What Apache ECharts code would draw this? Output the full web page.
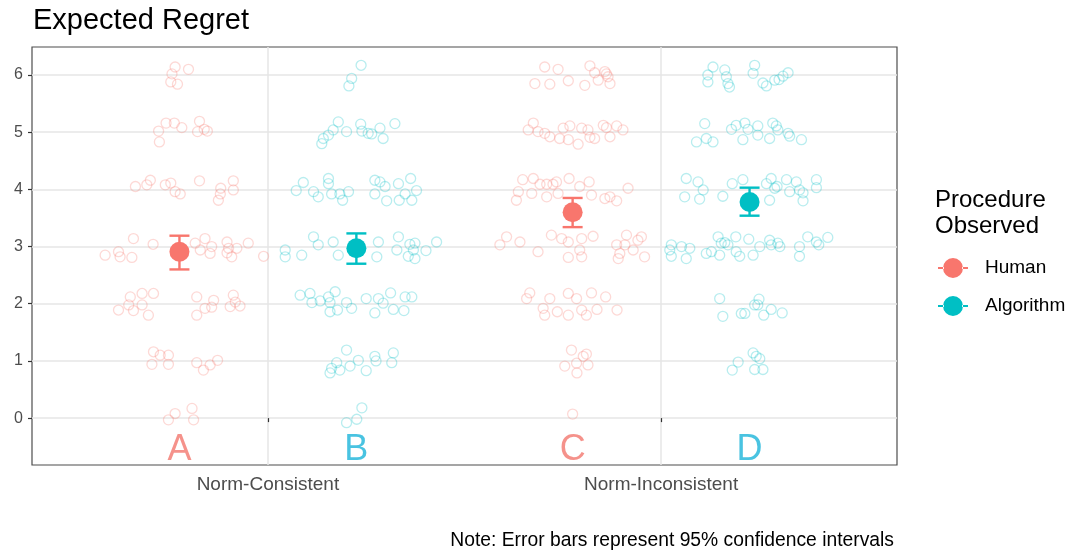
<!DOCTYPE html>
<html>
<head>
<meta charset="utf-8">
<script src="https://cdn.jsdelivr.net/npm/echarts@6/dist/echarts.min.js"></script>
<style>
  html, body { margin: 0; padding: 0; background: #ffffff; }
  #chart { width: 1071px; height: 554px; }
</style>
</head>
<body>
<div id="chart"></div>
<script>
// Conditions on the x axis and the two observed procedures
const categories = ['Norm-Consistent', 'Norm-Inconsistent'];
const procedures = ['Human', 'Algorithm'];
const yTicks = [0, 1, 2, 3, 4, 5, 6];

// Group means with 95% confidence limits, one value per condition
const humanMean = [2.91, 3.60];
const humanLow  = [2.60, 3.34];
const humanHigh = [3.19, 3.85];
const algoMean  = [2.97, 3.78];
const algoLow   = [2.70, 3.54];
const algoHigh  = [3.23, 4.03];

// Panel letters placed under each group
const panelLetters = ['A', 'B', 'C', 'D'];
const letterY = -0.56;

// Individual (jittered) responses: [x position, expected regret]
const humanConsistent = [
  [0.764,6.14],[0.798,6.10],[0.756,6.02],[0.753,5.88],[0.770,5.84],
  [0.741,5.16],[0.762,5.16],[0.826,5.19],[0.781,5.08],[0.722,5.02],[0.821,5.01],[0.846,5.02],[0.838,5.05],[0.724,4.83],
  [0.663,4.05],[0.692,4.08],[0.701,4.16],[0.739,4.08],[0.753,4.11],[0.764,3.96],[0.777,3.92],[0.826,4.15],[0.880,4.02],[0.879,3.92],[0.874,3.81],[0.912,4.15],[0.912,3.99],
  [0.586,2.85],[0.620,2.91],[0.624,2.82],[0.654,2.81],[0.658,3.14],[0.708,3.04],[0.815,3.06],[0.840,3.14],[0.828,2.94],[0.857,3.00],[0.853,2.88],[0.896,3.08],[0.900,2.97],[0.896,2.89],[0.908,2.82],[0.921,2.97],[0.950,3.06],[0.989,2.83],
  [0.650,2.12],[0.680,2.18],[0.709,2.18],[0.620,1.89],[0.646,1.98],[0.658,1.88],[0.680,1.98],[0.696,1.80],[0.819,2.12],[0.819,1.80],[0.840,1.92],[0.862,2.06],[0.857,1.94],[0.904,1.95],[0.912,2.15],[0.917,2.03],[0.929,1.96],
  [0.709,1.16],[0.726,1.10],[0.747,1.10],[0.705,0.94],[0.747,0.94],[0.819,0.97],[0.836,0.84],[0.853,0.93],[0.872,1.01],
  [0.764,0.08],[0.807,0.17],[0.747,-0.03],[0.811,-0.03]
];
const algoConsistent = [
  [1.237,6.17],[1.213,5.94],[1.206,5.81],
  [1.179,5.18],[1.236,5.14],[1.323,5.15],[1.166,5.04],[1.154,4.95],[1.141,4.89],[1.137,4.80],[1.200,5.01],[1.239,5.02],[1.255,4.98],[1.285,5.07],[1.293,4.89],[1.264,4.97],
  [1.090,4.12],[1.072,3.98],[1.116,3.96],[1.128,3.87],[1.154,4.19],[1.154,4.10],[1.162,3.92],[1.183,3.92],[1.190,3.81],[1.205,3.96],[1.272,4.16],[1.285,4.13],[1.272,3.92],[1.298,4.05],[1.302,3.80],[1.332,4.10],[1.363,4.19],[1.349,3.92],[1.334,3.81],[1.366,3.81],[1.378,3.98],
  [1.044,2.94],[1.044,2.82],[1.086,2.85],[1.116,3.17],[1.128,3.03],[1.166,3.08],[1.179,2.85],[1.281,3.08],[1.277,2.82],[1.332,3.17],[1.328,2.94],[1.361,3.04],[1.374,3.06],[1.370,2.94],[1.357,2.83],[1.374,2.79],[1.402,2.93],[1.429,3.08],
  [1.082,2.15],[1.107,2.18],[1.112,2.02],[1.133,2.05],[1.154,2.12],[1.171,2.21],[1.158,2.02],[1.158,1.86],[1.177,1.89],[1.200,2.02],[1.213,1.92],[1.250,2.09],[1.281,2.09],[1.293,2.01],[1.272,1.84],[1.312,2.19],[1.319,1.90],[1.346,1.88],[1.349,2.12],[1.366,2.12],
  [1.200,1.19],[1.175,0.97],[1.162,0.87],[1.158,0.79],[1.183,0.84],[1.209,0.91],[1.230,1.01],[1.250,0.83],[1.272,1.08],[1.275,1.00],[1.319,1.14],[1.315,0.97],
  [1.239,0.18],[1.226,-0.02],[1.200,-0.08]
];
const humanInconsistent = [
  [1.704,6.14],[1.738,6.10],[1.679,5.85],[1.717,5.84],[1.764,5.90],[1.819,6.16],[1.831,6.04],[1.806,5.82],[1.840,5.91],[1.857,6.06],[1.865,5.97],[1.870,5.85],[1.861,6.02],
  [1.675,5.16],[1.662,5.04],[1.687,5.01],[1.704,4.98],[1.717,4.92],[1.742,4.89],[1.751,5.07],[1.768,5.11],[1.764,4.87],[1.789,4.79],[1.798,5.07],[1.814,5.04],[1.819,4.91],[1.831,4.89],[1.853,5.12],[1.861,5.08],[1.870,4.92],[1.887,5.11],[1.903,5.04],
  [1.648,4.17],[1.675,4.19],[1.692,4.09],[1.637,3.96],[1.632,3.81],[1.671,3.93],[1.709,3.87],[1.709,4.09],[1.725,4.09],[1.734,4.13],[1.766,4.19],[1.738,3.93],[1.793,4.05],[1.817,4.13],[1.823,3.90],[1.857,3.84],[1.870,3.87],[1.887,3.80],[1.916,4.02],
  [1.607,3.17],[1.590,3.03],[1.641,3.08],[1.687,2.91],[1.721,3.20],[1.747,3.14],[1.764,3.08],[1.798,3.14],[1.793,2.94],[1.798,2.82],[1.764,2.81],[1.827,3.18],[1.887,3.03],[1.895,2.88],[1.891,2.79],[1.912,3.20],[1.908,3.03],[1.929,2.94],[1.941,3.11],[1.950,3.17],[1.958,2.82],
  [1.666,2.19],[1.658,2.09],[1.717,2.09],[1.700,1.92],[1.704,1.80],[1.736,1.86],[1.764,2.18],[1.785,2.09],[1.764,1.80],[1.798,1.89],[1.810,1.80],[1.823,2.19],[1.837,1.90],[1.859,2.12],[1.888,1.89],
  [1.772,1.19],[1.755,0.91],[1.785,0.96],[1.802,1.08],[1.810,1.12],[1.814,0.93],[1.786,0.79],
  [1.775,0.07]
];
const algoInconsistent = [
  [2.132,6.14],[2.119,6.00],[2.119,5.88],[2.162,6.09],[2.166,5.97],[2.170,5.85],[2.174,5.79],[2.238,6.17],[2.234,6.03],[2.259,5.86],[2.268,5.81],[2.289,5.91],[2.300,5.92],[2.310,5.98],[2.323,6.04],
  [2.111,5.15],[2.090,4.83],[2.115,4.89],[2.132,4.83],[2.179,5.05],[2.191,5.12],[2.213,5.16],[2.221,5.05],[2.208,4.87],[2.246,5.11],[2.246,4.95],[2.276,4.89],[2.284,5.16],[2.293,5.11],[2.297,5.04],[2.323,4.98],[2.327,4.93],[2.357,4.87],
  [2.064,4.19],[2.094,4.13],[2.060,3.87],[2.098,3.83],[2.107,3.99],[2.157,3.88],[2.181,4.10],[2.208,4.17],[2.268,4.10],[2.276,3.81],[2.280,4.19],[2.289,4.02],[2.319,4.17],[2.344,4.13],[2.327,3.96],[2.352,3.99],[2.361,3.94],[2.361,3.80],[2.395,4.17],[2.395,4.03],[2.295,4.05],
  [2.026,3.03],[2.022,2.94],[2.026,2.83],[2.052,3.00],[2.064,2.79],[2.073,2.97],[2.115,2.88],[2.145,3.17],[2.153,3.06],[2.162,3.07],[2.149,2.85],[2.170,3.03],[2.190,3.17],[2.191,2.91],[2.200,2.83],[2.223,3.13],[2.234,2.85],[2.251,3.00],[2.276,3.11],[2.280,3.03],[2.297,3.06],[2.302,3.00],[2.352,3.00],[2.352,2.83],[2.373,3.17],[2.395,3.08],[2.401,3.03],[2.424,3.16],[2.128,2.91],
  [2.149,2.09],[2.157,1.78],[2.204,1.83],[2.213,1.83],[2.238,1.98],[2.249,2.08],[2.246,1.98],[2.261,1.80],[2.280,1.90],[2.308,1.84],
  [2.234,1.14],[2.242,1.08],[2.251,1.04],[2.196,0.98],[2.181,0.84],[2.238,0.85],[2.259,0.85]
];

const HUMAN = '#F8766D';
const ALGO = '#00BFC4';
const LETTER_RED = '#F3776E';
const LETTER_BLUE = '#1CB4DA';
const DODGE = 0.225;
const FONT = '"Liberation Sans", Arial, sans-serif';

// x position of each procedure inside a condition
const xPos = (ci, pi) => ci + 1 + (pi === 0 ? -DODGE : DODGE);

const humanMeans = categories.map((c, i) => [xPos(i, 0), humanMean[i]]);
const algoMeans = categories.map((c, i) => [xPos(i, 1), algoMean[i]]);
const humanBars = categories.map((c, i) => [xPos(i, 0), humanLow[i], humanHigh[i]]);
const algoBars = categories.map((c, i) => [xPos(i, 1), algoLow[i], algoHigh[i]]);

const letterColors = [LETTER_RED, LETTER_BLUE, LETTER_RED, LETTER_BLUE];
const letterData = panelLetters.map((t, k) => ({
  value: [xPos(Math.floor(k / 2), k % 2), letterY, t],
  label: { color: letterColors[k] }
}));

const jitterSeries = (name, data, color) => ({
  name: name,
  type: 'scatter',
  data: data,
  symbol: 'circle',
  symbolSize: 10,
  z: 2,
  silent: true,
  itemStyle: {
    color: 'rgba(255,255,255,0)',
    borderColor: color,
    borderWidth: 1.3,
    opacity: 0.28
  }
});

const errorBarSeries = (name, data, color) => ({
  name: name,
  type: 'custom',
  data: data,
  z: 4,
  silent: true,
  renderItem: function (params, api) {
    const top = api.coord([api.value(0), api.value(2)]);
    const bot = api.coord([api.value(0), api.value(1)]);
    const half = 10;
    const style = { stroke: color, lineWidth: 2.4, fill: null };
    return {
      type: 'group',
      children: [
        { type: 'line', shape: { x1: top[0], y1: top[1], x2: bot[0], y2: bot[1] }, style: style },
        { type: 'line', shape: { x1: top[0] - half, y1: top[1], x2: top[0] + half, y2: top[1] }, style: style },
        { type: 'line', shape: { x1: bot[0] - half, y1: bot[1], x2: bot[0] + half, y2: bot[1] }, style: style }
      ]
    };
  }
});

const meanSeries = (name, data, color) => ({
  name: name,
  type: 'scatter',
  data: data,
  symbol: 'circle',
  symbolSize: 20,
  z: 5,
  itemStyle: { color: color, opacity: 1 }
});

// legend key: a dot with a short bar on each side
const legendIcon = 'path://M0,9h6v2h-6z M24,9h6v2h-6z M5,10a10,10 0 1,0 20,0a10,10 0 1,0 -20,0z';

const chart = echarts.init(document.getElementById('chart'), null, { renderer: 'canvas' });

chart.setOption({
  animation: false,
  backgroundColor: '#ffffff',
  textStyle: { fontFamily: FONT },
  title: [
    {
      text: 'Expected Regret',
      left: 28, top: 1,
      textStyle: { fontFamily: FONT, fontSize: 29, fontWeight: 'normal', color: '#000000' }
    },
    {
      text: 'Procedure\nObserved',
      left: 930, top: 182,
      textStyle: { fontFamily: FONT, fontSize: 24, fontWeight: 'normal', color: '#000000', lineHeight: 26 }
    },
    {
      text: 'Note: Error bars represent 95% confidence intervals',
      right: 172, top: 526,
      textStyle: { fontFamily: FONT, fontSize: 19.3, fontWeight: 'normal', color: '#000000' }
    }
  ],
  legend: {
    data: procedures,
    orient: 'vertical',
    left: 933, top: 253,
    itemWidth: 30, itemHeight: 20, itemGap: 18,
    icon: legendIcon,
    textStyle: { fontFamily: FONT, fontSize: 19, color: '#000000', padding: [0, 0, 0, 12] },
    selectedMode: false
  },
  grid: { left: 32, right: 174, top: 47, bottom: 89, show: true, borderColor: '#4d4d4d', borderWidth: 1.2, backgroundColor: '#ffffff' },
  xAxis: {
    type: 'value',
    min: 0.4, max: 2.6,
    axisLine: { show: false },
    axisTick: { show: true, customValues: [1, 2], length: 4, lineStyle: { color: '#333333', width: 1.2 } },
    axisLabel: {
      customValues: [1, 2], margin: 10,
      formatter: v => categories[Math.round(v) - 1],
      fontFamily: FONT, fontSize: 19, color: '#4d4d4d'
    },
    splitLine: { show: true, lineStyle: { color: '#e6e6e6', width: 1.5 } }
  },
  yAxis: {
    type: 'value',
    min: -0.82, max: 6.49,
    axisLine: { show: false },
    axisTick: { show: true, customValues: yTicks, length: 4, lineStyle: { color: '#333333', width: 1.2 } },
    axisLabel: {
      customValues: yTicks, margin: 9,
      fontFamily: FONT, fontSize: 16, color: '#4d4d4d'
    },
    splitLine: { show: true, lineStyle: { color: '#e6e6e6', width: 1.5 } }
  },
  series: [
    jitterSeries('Human responses', humanConsistent, HUMAN),
    jitterSeries('Human responses', humanInconsistent, HUMAN),
    jitterSeries('Algorithm responses', algoConsistent, ALGO),
    jitterSeries('Algorithm responses', algoInconsistent, ALGO),
    errorBarSeries('Human interval', humanBars, HUMAN),
    errorBarSeries('Algorithm interval', algoBars, ALGO),
    meanSeries('Human', humanMeans, HUMAN),
    meanSeries('Algorithm', algoMeans, ALGO),
    {
      name: 'Letters',
      type: 'scatter',
      data: letterData,
      symbolSize: 0,
      silent: true,
      z: 6,
      label: {
        show: true,
        position: 'inside',
        formatter: p => p.value[2],
        fontFamily: FONT,
        fontSize: 36
      }
    }
  ]
});
</script>
</body>
</html>
